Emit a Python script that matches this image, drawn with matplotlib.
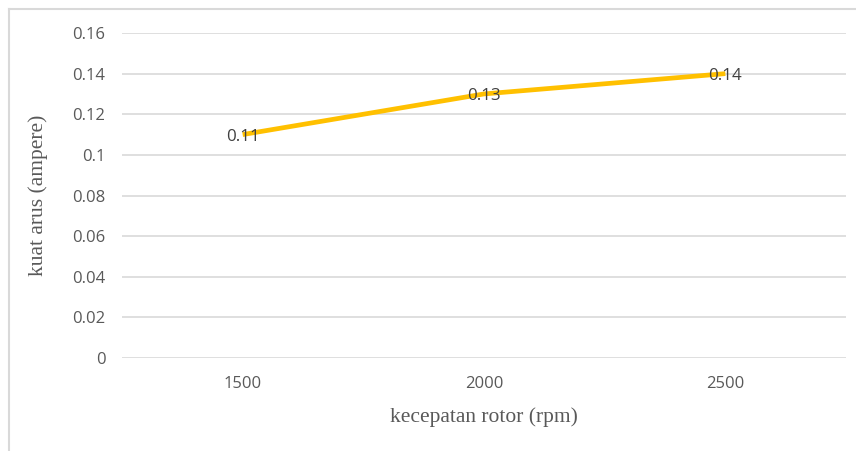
import matplotlib.pyplot as plt
from matplotlib.lines import Line2D

# data
rpm = ["1500", "2000", "2500"]
arus = [0.11, 0.13, 0.14]
yticks = [0, 0.02, 0.04, 0.06, 0.08, 0.1, 0.12, 0.14, 0.16]
ytick_labels = ["0", "0.02", "0.04", "0.06", "0.08", "0.1", "0.12", "0.14", "0.16"]

W, H = 856, 451
fig = plt.figure(figsize=(W / 100, H / 100), dpi=100)
ax = fig.add_axes([122 / W, 1 - 358 / H, (846 - 122) / W, (358 - 33) / H])

x = list(range(len(rpm)))
ax.plot(x, arus, color="#FFC000", lw=3.4, solid_capstyle="butt", zorder=3)
for xi, v in zip(x, arus):
    ax.annotate(f"{v:g}", (xi, v), xytext=(0, -1.5), textcoords="offset points",
                ha="center", va="center", fontsize=12.2,
                family="Open Sans", color="#404040", zorder=4)

ax.set_xlim(-0.5, len(rpm) - 0.5)
ax.set_ylim(0, 0.16)
ax.set_xticks(x)
ax.set_xticklabels(rpm)
ax.set_yticks(yticks)
ax.set_yticklabels(ytick_labels)
ax.grid(axis="y", color="#d9d9d9", lw=1.2)
ax.set_axisbelow(True)
for s in ax.spines.values():
    s.set_visible(False)
ax.tick_params(length=0, labelsize=12, labelcolor="#595959")
ax.tick_params(axis="y", pad=12)
ax.tick_params(axis="x", pad=13)
for lab in ax.get_xticklabels() + ax.get_yticklabels():
    lab.set_family("Open Sans")

ax.set_xlabel("kecepatan rotor (rpm)", family="Liberation Serif", fontsize=15.5,
              color="#595959", labelpad=11)
ax.set_ylabel("kuat arus (ampere)", family="Liberation Serif", fontsize=15.5,
              color="#595959", labelpad=17)

# thin frame round the chart (only left and top edges show in the image)
fig.add_artist(Line2D([9 / W, 9 / W], [0, 1 - 9 / H], color="#d9d9d9", lw=1.5,
                      transform=fig.transFigure))
fig.add_artist(Line2D([9 / W, 1], [1 - 9 / H, 1 - 9 / H], color="#d9d9d9", lw=1.5,
                      transform=fig.transFigure))

fig.savefig("out.png", dpi=100)
